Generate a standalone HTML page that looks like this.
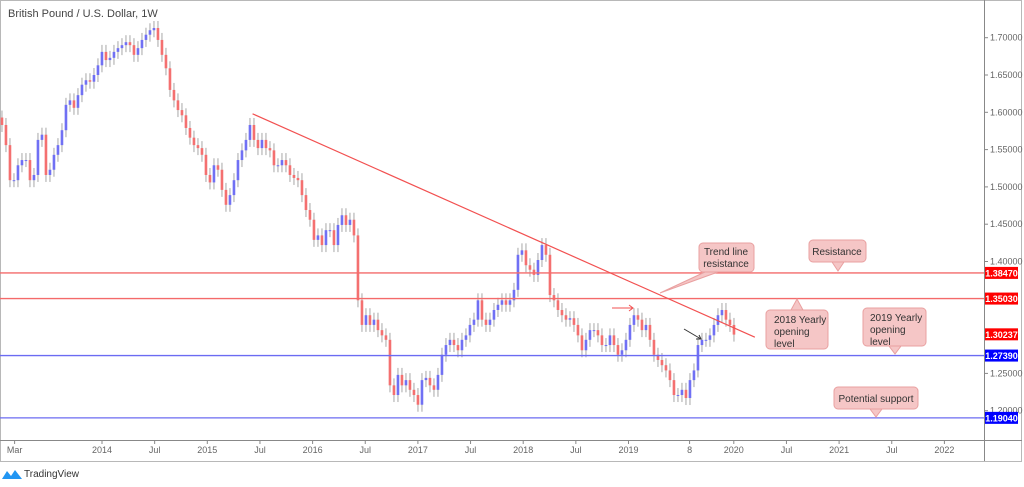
<!DOCTYPE html>
<html><head><meta charset="utf-8">
<style>
html,body{margin:0;padding:0;background:#fff;}
body{width:1024px;height:482px;overflow:hidden;font-family:"Liberation Sans",sans-serif;}
svg text{font-family:"Liberation Sans",sans-serif;}
</style></head>
<body>
<svg id="chart" width="1024" height="482" viewBox="0 0 1024 482" xmlns="http://www.w3.org/2000/svg">
  <rect x="0.5" y="0.5" width="1021" height="461" fill="#fff" stroke="#b8b8b8"/>
  <text x="8" y="17" font-size="11" fill="#444">British Pound / U.S. Dollar, 1W</text>
  <g id="candles"></g>
  <g id="levels"></g>
  <line id="trend" stroke="#f25050" stroke-width="1.2"/>
  <line x1="984.5" y1="0" x2="984.5" y2="461" stroke="#888"/>
  <line x1="0" y1="440.5" x2="1022" y2="440.5" stroke="#888"/>
  <g id="yticks"></g>
  <g id="xticks"></g>
  <g id="pricetags"></g>
  <g>
    <path d="M705 272 L660 293 L718 272 Z" fill="#f5c6c6" stroke="#e9a0a0"/>
    <rect x="699" y="243" width="55" height="29" rx="4" fill="#f5c6c6" stroke="#e9a0a0"/>
    <text x="726" y="255" font-size="10" fill="#333" text-anchor="middle">Trend line</text>
    <text x="726" y="267" font-size="10" fill="#333" text-anchor="middle">resistance</text>
  </g>
  <g>
    <path d="M832 262 L838 271 L844 262 Z" fill="#f5c6c6" stroke="#e9a0a0"/>
    <rect x="809" y="240" width="57" height="22" rx="4" fill="#f5c6c6" stroke="#e9a0a0"/>
    <text x="837" y="255" font-size="10" fill="#333" text-anchor="middle">Resistance</text>
  </g>
  <g>
    <path d="M791 310 L797 299 L803 310 Z" fill="#f5c6c6" stroke="#e9a0a0"/>
    <rect x="766" y="310" width="62" height="39" rx="4" fill="#f5c6c6" stroke="#e9a0a0"/>
    <text x="774" y="323" font-size="10" fill="#333">2018 Yearly</text>
    <text x="774" y="335" font-size="10" fill="#333">opening</text>
    <text x="774" y="347" font-size="10" fill="#333">level</text>
  </g>
  <g>
    <path d="M889 346 L895 354 L901 346 Z" fill="#f5c6c6" stroke="#e9a0a0"/>
    <rect x="863" y="308" width="63" height="38" rx="4" fill="#f5c6c6" stroke="#e9a0a0"/>
    <text x="870" y="321" font-size="10" fill="#333">2019 Yearly</text>
    <text x="870" y="333" font-size="10" fill="#333">opening</text>
    <text x="870" y="345" font-size="10" fill="#333">level</text>
  </g>
  <g>
    <path d="M870 409 L876 417 L882 409 Z" fill="#f5c6c6" stroke="#e9a0a0"/>
    <rect x="834" y="387" width="84" height="22" rx="4" fill="#f5c6c6" stroke="#e9a0a0"/>
    <text x="876" y="402" font-size="10" fill="#333" text-anchor="middle">Potential support</text>
  </g>
  <g stroke="#f25050" stroke-width="1" fill="none">
    <line x1="612" y1="308" x2="633" y2="308"/><polyline points="629,305 633,308 629,311"/>
  </g>
  <g stroke="#333" stroke-width="1" fill="none">
    <line x1="684" y1="329" x2="701" y2="339"/><polyline points="696,339 701,339 699,335"/>
  </g>
  <g>
    <path d="M2 479 L7 471 L11 476 L15 470 L22 479 Z" fill="#2196f3"/>
    <text x="24" y="477" font-size="10" fill="#333">TradingView</text>
  </g>
</svg>
<script>
const closes=[1.583,1.556,1.509,1.509,1.529,1.536,1.536,1.509,1.516,1.563,1.570,1.516,1.523,1.543,1.556,1.576,1.610,1.616,1.606,1.623,1.637,1.643,1.641,1.650,1.663,1.681,1.670,1.673,1.681,1.686,1.690,1.694,1.690,1.677,1.686,1.697,1.704,1.710,1.713,1.697,1.677,1.659,1.630,1.616,1.603,1.596,1.579,1.566,1.556,1.552,1.543,1.516,1.506,1.529,1.523,1.496,1.476,1.489,1.509,1.536,1.549,1.563,1.583,1.563,1.552,1.563,1.552,1.549,1.529,1.529,1.536,1.529,1.516,1.512,1.509,1.489,1.469,1.456,1.429,1.435,1.422,1.442,1.442,1.422,1.449,1.462,1.449,1.456,1.435,1.348,1.315,1.328,1.315,1.322,1.308,1.301,1.295,1.234,1.221,1.248,1.234,1.241,1.228,1.221,1.208,1.241,1.244,1.234,1.228,1.248,1.275,1.288,1.295,1.288,1.281,1.295,1.301,1.315,1.322,1.348,1.322,1.315,1.322,1.335,1.342,1.348,1.342,1.348,1.362,1.409,1.415,1.395,1.389,1.382,1.402,1.422,1.409,1.355,1.348,1.335,1.328,1.322,1.324,1.315,1.301,1.281,1.295,1.308,1.308,1.301,1.288,1.288,1.301,1.288,1.275,1.281,1.295,1.315,1.328,1.322,1.308,1.315,1.295,1.275,1.268,1.261,1.254,1.241,1.221,1.221,1.228,1.217,1.241,1.254,1.288,1.295,1.295,1.301,1.315,1.328,1.335,1.322,1.315,1.302];
const startYear=2013.05;
const periodYears=4/105.3;
const priceTicks=[1.70,1.65,1.60,1.55,1.50,1.45,1.40,1.25,1.20];
const timeLabels=["Mar","2014","Jul","2015","Jul","2016","Jul","2017","Jul","2018","Jul","2019","8","2020","Jul","2021","Jul","2022"];
const timeValues=[2013.17,2014,2014.5,2015,2015.5,2016,2016.5,2017,2017.5,2018,2018.5,2019,2019.58,2020,2020.5,2021,2021.5,2022];
const levelPrices=[1.3847,1.3503,1.2739,1.1904];
const levelColors=["#f46a6a","#f46a6a","#6b6bf2","#6b6bf2"];
const tagPrices=[1.3847,1.3503,1.30237,1.2739,1.1904];
const tagColors=["#ff0000","#ff0000","#ff0000","#0000ff","#0000ff"];
const trendPoints=[[2015.43,1.598],[2020.2,1.2985]];

const NS="http://www.w3.org/2000/svg";
function y(p){return 37.7+(1.70-p)*746;}
function xt(t){return 102+(t-2014)*105.3;}
function xi(i){return xt(startYear+i*periodYears);}
function mk(tag,attrs,parent){const e=document.createElementNS(NS,tag);for(const k in attrs)e.setAttribute(k,attrs[k]);parent.appendChild(e);return e;}

const cg=document.getElementById('candles');
for(let i=0;i<closes.length;i++){
  const c=closes[i], o=i?closes[i-1]:closes[0]+0.01;
  const x=xi(i), up=c>=o;
  const yt=y(Math.max(o,c)), yb=y(Math.min(o,c));
  const w=mk('line',{x1:x,x2:x,y1:yt-7,y2:yb+7,stroke:'#a8a8a8','stroke-width':1},cg);
  
  
  const r=mk('rect',{x:x-1.3,y:yt,width:2.6,height:Math.max(1,yb-yt),fill:up?'#7070f4':'#f47070'},cg);
  
  
}
const lg=document.getElementById('levels');
levelPrices.forEach((p,i)=>{
  const l=mk('line',{x1:0,x2:984,y1:y(p),y2:y(p),stroke:levelColors[i],'stroke-width':1.3},lg);
  
  
});
const tr=document.getElementById('trend');
tr.setAttribute('x1',xt(trendPoints[0][0]));tr.setAttribute('y1',y(trendPoints[0][1]));
tr.setAttribute('x2',xt(trendPoints[1][0]));tr.setAttribute('y2',y(trendPoints[1][1]));
const yg=document.getElementById('yticks');
priceTicks.forEach(p=>{
  const t=mk('line',{x1:984,x2:988,y1:y(p),y2:y(p),stroke:'#888'},yg);
  
  
  const tx=mk('text',{x:990,y:y(p)+3,'font-size':'9',fill:'#666'},yg);
  tx.textContent=p.toFixed(5);
  
  
});
const xg=document.getElementById('xticks');
timeLabels.forEach((s,i)=>{
  const x=xt(timeValues[i]);
  const t=mk('line',{x1:x,x2:x,y1:440,y2:444,stroke:'#888'},xg);
  
  
  const tx=mk('text',{x:x,y:453,'font-size':'9',fill:'#666','text-anchor':'middle'},xg);
  tx.textContent=s;
  
  
});
const pg=document.getElementById('pricetags');
tagPrices.forEach((p,i)=>{
  const r=mk('rect',{x:985,y:y(p)-6,width:33,height:12,fill:tagColors[i]},pg);
  
  
  const tx=mk('text',{x:1001.5,y:y(p)+3.5,'font-size':'9','font-weight':'bold',fill:'#fff','text-anchor':'middle'},pg);
  tx.textContent=p.toFixed(5);
  
  
});
</script>
</body></html>
